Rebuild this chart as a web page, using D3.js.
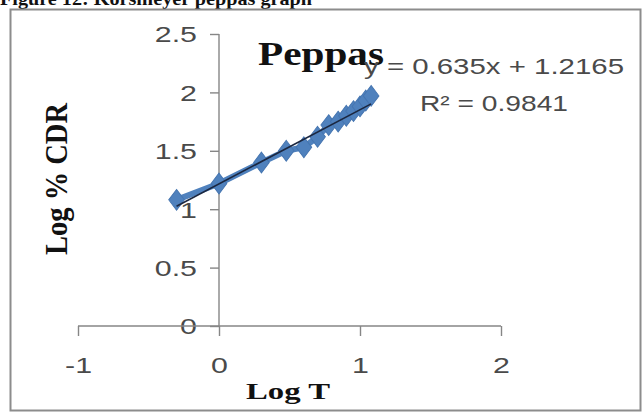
<!DOCTYPE html>
<html>
<head>
<meta charset="utf-8">
<script src="https://cdn.jsdelivr.net/npm/d3@7"></script>
<style>
  html, body { margin: 0; padding: 0; background: #fff; }
  svg { display: block; }
</style>
</head>
<body>
<svg id="chart" width="644" height="414"></svg>
<script>
// ---- data ----
const logT   = [-0.301, 0, 0.301, 0.477, 0.602, 0.699, 0.778, 0.845, 0.903, 0.954, 1.0, 1.041, 1.079];
const logCDR = [1.08, 1.22, 1.40, 1.50, 1.53, 1.62, 1.72, 1.75, 1.80, 1.84, 1.88, 1.93, 1.97];
const xTicks = [-1, 0, 1, 2];
const xTickLabels = ["-1", "0", "1", "2"];
const yTicks = [0, 0.5, 1, 1.5, 2, 2.5];
const yTickLabels = ["0", "0.5", "1", "1.5", "2", "2.5"];
const trendSlope = 0.635;
const trendIntercept = 1.2165;
const equationText = "y = 0.635x + 1.2165";
const r2Text = "R\u00B2 = 0.9841";
const chartTitle = "Peppas";
const xTitle = "Log  T";
const yTitle = "Log  % CDR";
const figCaption = "Figure 12: Korsmeyer peppas graph";

// ---- setup ----
const svg = d3.select("#chart");
const x = d3.scaleLinear().domain([-1, 2]).range([78, 501]);
const y = d3.scaleLinear().domain([0, 2.5]).range([326, 34]);
const axisColor = "#868686";
const labelColor = "#4a4a4a";
const STRETCH = 1.38;

function stretch(sel, factor) {
  sel.each(function () {
    const w = this.getComputedTextLength();
    d3.select(this).attr("textLength", w * factor).attr("lengthAdjust", "spacingAndGlyphs");
  });
}

// caption (cut off at top, as in the reference)
svg.append("text")
  .attr("x", 0).attr("y", 5)
  .attr("font-family", "Liberation Serif, serif")
  .attr("font-weight", "bold")
  .attr("font-size", 19)
  .attr("fill", "#111")
  .attr("textLength", 312).attr("lengthAdjust", "spacingAndGlyphs")
  .text(figCaption);

// frame
svg.append("rect")
  .attr("x", 10.5).attr("y", 9.5)
  .attr("width", 630).attr("height", 401)
  .attr("fill", "#fff")
  .attr("stroke", "#8c8c8c").attr("stroke-width", 2);

// axes
const yAxis = svg.append("g")
  .attr("transform", `translate(${x(0)},0)`)
  .call(d3.axisLeft(y).tickValues(yTicks).tickSize(9).tickPadding(13)
        .tickFormat((d, i) => yTickLabels[i]));
const xAxis = svg.append("g")
  .attr("transform", `translate(0,${y(0)})`)
  .call(d3.axisBottom(x).tickValues(xTicks).tickSize(10)
        .tickFormat((d, i) => xTickLabels[i]));

[yAxis, xAxis].forEach(g => {
  g.select(".domain").attr("stroke", axisColor).attr("stroke-width", 1.4);
  g.selectAll(".tick line").attr("stroke", axisColor).attr("stroke-width", 1.4);
  g.selectAll(".tick text")
    .attr("fill", labelColor)
    .attr("font-family", "Liberation Sans, Arial, sans-serif")
    .attr("font-size", 22);
});
yAxis.select(".domain").attr("d", `M0,${y(2.5)}V${y(0)}`);
xAxis.select(".domain").attr("d", `M${x(-1)},0H${x(2)}`);
xAxis.selectAll(".tick text").attr("y", 47).attr("dy", 0);
yAxis.selectAll(".tick text").attr("dy", "0.36em");
stretch(yAxis.selectAll(".tick text"), STRETCH);
stretch(xAxis.selectAll(".tick text"), STRETCH);

// series line
const line = d3.line().x((d, i) => x(logT[i])).y(d => y(d));
svg.append("path")
  .datum(logCDR)
  .attr("d", line)
  .attr("fill", "none")
  .attr("stroke", "#4F81BD")
  .attr("stroke-width", 6)
  .attr("stroke-linejoin", "round");

// markers
const diamond = d3.symbol().type(d3.symbolDiamond).size(125);
svg.append("g").selectAll("path")
  .data(logCDR)
  .join("path")
  .attr("d", diamond)
  .attr("transform", (d, i) => `translate(${x(logT[i])},${y(d)}) scale(1.3,1)`)
  .attr("fill", "#4F81BD")
  .attr("stroke", "#4575b0")
  .attr("stroke-width", 0.8);

// trendline
const xMin = d3.min(logT), xMax = d3.max(logT);
svg.append("line")
  .attr("x1", x(xMin)).attr("y1", y(trendSlope * xMin + trendIntercept))
  .attr("x2", x(xMax)).attr("y2", y(trendSlope * xMax + trendIntercept))
  .attr("stroke", "#1b2740")
  .attr("stroke-width", 1.6);

// chart title
svg.append("text")
  .attr("x", 258).attr("y", 65)
  .attr("font-family", "Liberation Serif, serif")
  .attr("font-weight", "bold")
  .attr("font-size", 33)
  .attr("fill", "#111")
  .attr("textLength", 126).attr("lengthAdjust", "spacingAndGlyphs")
  .text(chartTitle);

// equation and R2
svg.append("text")
  .attr("x", 364).attr("y", 74)
  .attr("font-family", "Liberation Sans, Arial, sans-serif")
  .attr("font-size", 22)
  .attr("fill", labelColor)
  .attr("textLength", 260).attr("lengthAdjust", "spacingAndGlyphs")
  .text(equationText);
svg.append("text")
  .attr("x", 420).attr("y", 111)
  .attr("font-family", "Liberation Sans, Arial, sans-serif")
  .attr("font-size", 22)
  .attr("fill", labelColor)
  .attr("textLength", 148).attr("lengthAdjust", "spacingAndGlyphs")
  .text(r2Text);

// axis titles
svg.append("text")
  .attr("x", 288).attr("y", 399)
  .attr("text-anchor", "middle")
  .attr("font-family", "Liberation Serif, serif")
  .attr("font-weight", "bold")
  .attr("font-size", 24)
  .attr("fill", "#111")
  .attr("textLength", 84).attr("lengthAdjust", "spacingAndGlyphs")
  .text(xTitle);
svg.append("text")
  .attr("transform", "translate(67,179) rotate(-90) scale(1,1.3)")
  .attr("text-anchor", "middle")
  .attr("font-family", "Liberation Serif, serif")
  .attr("font-weight", "bold")
  .attr("font-size", 25)
  .attr("fill", "#111")
  .attr("textLength", 152).attr("lengthAdjust", "spacingAndGlyphs")
  .text(yTitle);
</script>
</body>
</html>
